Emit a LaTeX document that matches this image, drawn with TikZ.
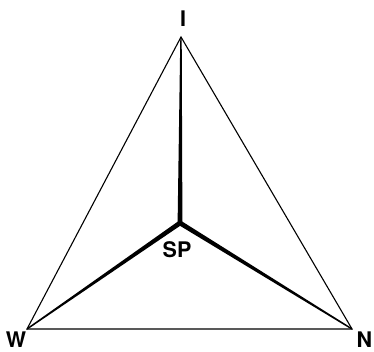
\documentclass[tikz,border=0pt]{standalone}
\usepackage{fontspec}
\setmainfont{TeX Gyre Heros}
\usetikzlibrary{calc}
\begin{document}
\begin{tikzpicture}[x=1pt,y=-1pt,
  edge/.style={line width=1.1pt, line join=miter},
  lbl/.style={font=\fontsize{21.5}{21.5}\selectfont\bfseries, inner sep=0pt}]
\useasboundingbox (0,0) rectangle (374,352);
\coordinate (I) at (181,37);
\coordinate (W) at (27,329);
\coordinate (N) at (352,329);
\coordinate (SP) at (180,223);
\draw[edge] (I) -- (W) -- (N) -- cycle;
\foreach \v in {I,W,N}{
  \fill ($(SP)!2.4pt!90:(\v)$) -- ($(\v)!0.7pt!-90:(SP)$) -- ($(\v)!0.7pt!90:(SP)$) -- ($(SP)!2.4pt!-90:(\v)$) -- cycle;
}
\fill (SP) circle (2.5pt);
\node[lbl] (lI) at (183,18.5) {I};
\node[lbl] (lW) at (16,339.5) {W};
\node[lbl] (lN) at (364.5,339.5) {N};
\node[lbl] (lSP) at (177,250) {SP};
\end{tikzpicture}
\end{document}
